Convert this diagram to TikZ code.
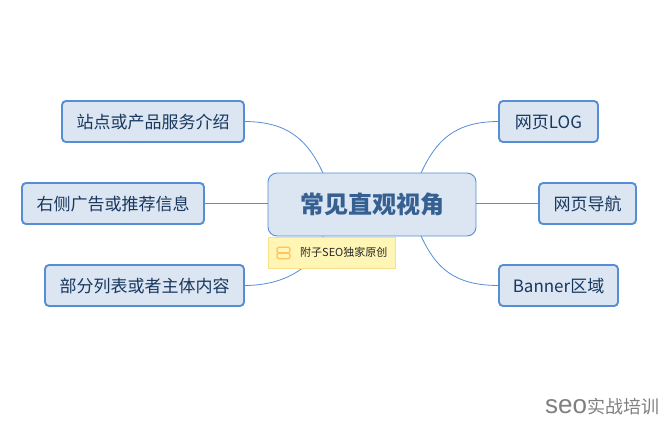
\documentclass[tikz,border=0pt]{standalone}
\usepackage{fontspec}
\setmainfont{Noto Sans CJK SC}
\newfontfamily\wmlatin{Liberation Sans}
\usetikzlibrary{calc}
\definecolor{fillblue}{HTML}{DCE6F2}
\definecolor{lineblue}{HTML}{558ED5}
\definecolor{inkblue}{HTML}{17375E}
\definecolor{titleblue}{HTML}{366092}
\definecolor{noteyellow}{HTML}{FFF5B5}
\definecolor{noteline}{HTML}{FBE08A}
\definecolor{iconorange}{HTML}{FBC45C}
\definecolor{wmgray}{HTML}{7F7F7F}
\tikzset{
  topicbox/.style={draw=lineblue,fill=fillblue,line width=1.9bp,rounded corners=4bp,inner sep=0pt,outer sep=0pt,
    text=inkblue,font=\fontsize{17bp}{20bp}\selectfont,anchor=north west,text height=16bp,text depth=2bp},
  centerbox/.style={draw=lineblue,fill=fillblue,line width=0.9bp,rounded corners=9bp,inner sep=0pt,outer sep=0pt,
    text=titleblue,font=\fontsize{24bp}{28bp}\selectfont\bfseries,anchor=north west,text height=20bp,text depth=2bp},
  notebox/.style={draw=noteline,fill=noteyellow,line width=0.8bp,inner sep=0pt,outer sep=0pt,anchor=north west,
    minimum width=127bp,minimum height=31bp},
  link/.style={draw=lineblue,line width=0.8bp},
  iconbar/.style={draw=iconorange,fill=noteyellow,line width=1.2bp,rounded corners=1.5bp,
    minimum width=13bp,minimum height=5.5bp,inner sep=0pt,outer sep=0pt}
}
\begin{document}
\begin{tikzpicture}[x=1bp,y=-1bp]
\useasboundingbox (0,0) rectangle (661,420);
\node[centerbox,minimum width=208bp,minimum height=63bp] (core) at (268,173) {常见直观视角};
\node[topicbox,minimum width=182bp,minimum height=41bp] (t1) at (62,101) {站点或产品服务介绍};
\node[topicbox,minimum width=182bp,minimum height=41bp] (t2) at (22,183) {右侧广告或推荐信息};
\node[topicbox,minimum width=199bp,minimum height=41bp] (t3) at (45,265) {部分列表或者主体内容};
\node[topicbox,minimum width=99bp,minimum height=41bp] (t4) at (499,101) {网页LOG};
\node[topicbox,minimum width=97bp,minimum height=41bp] (t5) at (539,183) {网页导航};
\node[topicbox,minimum width=119bp,minimum height=41bp] (t6) at (499,265) {Banner区域};
\coordinate (cnw) at ($(core.north)+(-49,0)$);
\coordinate (cne) at ($(core.north)+(49,0)$);
\coordinate (csw) at ($(core.south)+(-49,0)$);
\coordinate (cse) at ($(core.south)+(49,0)$);
\draw[link] (t1.east) .. controls +(45,0) and +(-15,-32) .. (cnw);
\draw[link] (t4.west) .. controls +(-45,0) and +(15,-32) .. (cne);
\draw[link] (t3.east) .. controls +(40,0) and +(-8,32) .. (csw);
\draw[link] (t6.west) .. controls +(-45,0) and +(15,32) .. (cse);
\draw[link] (t2.east) -- (core.west |- t2.east);
\draw[link] (t5.west) -- (core.east |- t5.west);
\node[notebox] (note) at (268,237) {};
\node[iconbar] (ic1) at (283.5,250) {};
\node[iconbar] (ic2) at (283.5,256) {};
\node[anchor=west,inner sep=0pt,text=black!85,font=\fontsize{11bp}{12bp}\selectfont] (notetext) at (300,252.5) {附子SEO独家原创};
\node[anchor=base west,inner sep=0pt,text=wmgray] (wm) at (545,413) {{\wmlatin\fontsize{26bp}{28bp}\selectfont seo}{\fontsize{18bp}{20bp}\selectfont 实战培训}};
\end{tikzpicture}
\end{document}
